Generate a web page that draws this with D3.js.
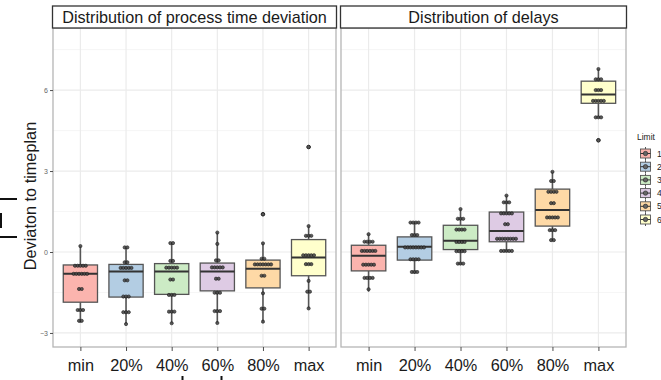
<!DOCTYPE html>
<html>
<head>
<meta charset="utf-8">
<script src="https://cdn.jsdelivr.net/npm/d3@7"></script>
<style>
  html, body { margin: 0; padding: 0; background: #fff; }
  svg { display: block; font-family: "Liberation Sans", Arial, sans-serif; }
</style>
</head>
<body>
<svg id="chart" width="661" height="380"></svg>
<script>
// ---------- DATA ----------
const categories = ["min", "20%", "40%", "60%", "80%", "max"];
const panelTitles = ["Distribution of process time deviation", "Distribution of delays"];
const yTicks = [-3, 0, 3, 6];
const legendTitle = "Limit";
const legendLabels = ["1", "2", "3", "4", "5", "6"];
const yAxisTitle = "Deviaton to timeplan";

// Panel 1: process time deviation (box statistics per category)
const processLow    = [-2.62, -2.67, -2.64, -2.63, -2.58, -2.09];
const processQ1     = [-1.86, -1.67, -1.57, -1.44, -1.33, -0.88];
const processMedian = [-0.81, -0.72, -0.72, -0.72, -0.62, -0.20];
const processQ3     = [-0.48, -0.46, -0.43, -0.41, -0.30,  0.46];
const processHigh   = [ 0.22,  0.17,  0.33,  0.72,  0.32,  0.96];
const processOutliers = [[4, 1.40], [5, 3.89]];
// dots: [category index, value, count]
const processDots = [
  [0, 0.22, 1], [0, -0.51, 5], [0, -0.81, 6], [0, -1.37, 2], [0, -2.15, 3], [0, -2.55, 2],
  [1, 0.17, 2], [1, -0.38, 2], [1, -0.59, 5], [1, -1.05, 2], [1, -1.65, 3], [1, -2.23, 3], [1, -2.67, 1],
  [2, 0.33, 2], [2, -0.33, 2], [2, -0.58, 5], [2, -1.02, 2], [2, -1.59, 3], [2, -2.21, 3], [2, -2.64, 1],
  [3, 0.72, 1], [3, 0.30, 1], [3, -0.31, 2], [3, -0.57, 5], [3, -0.99, 2], [3, -1.51, 3], [3, -2.19, 3], [3, -2.63, 1],
  [4, 1.40, 1], [4, 0.32, 1], [4, -0.25, 2], [4, -0.46, 7], [4, -0.88, 2], [4, -1.53, 1], [4, -2.10, 2], [4, -2.58, 1],
  [5, 3.89, 1], [5, 0.96, 1], [5, 0.60, 3], [5, -0.12, 5], [5, -0.45, 3], [5, -1.07, 1], [5, -1.47, 2], [5, -2.09, 1]
];

// Panel 2: delays
const delayLow    = [-1.47, -0.81, -0.47, 0.00, 0.40, 4.99];
const delayQ1     = [-0.70, -0.30,  0.09, 0.38, 0.96, 5.51];
const delayMedian = [-0.14,  0.19,  0.42, 0.78, 1.56, 5.84];
const delayQ3     = [ 0.25,  0.56,  0.99, 1.48, 2.33, 6.33];
const delayHigh   = [ 0.66,  1.09,  1.59, 2.09, 2.97, 6.78];
const delayOutliers = [[5, 4.14]];
const delayDots = [
  [0, 0.66, 1], [0, 0.38, 4], [0, 0.04, 6], [0, -0.47, 5], [0, -0.96, 4], [0, -1.38, 1],
  [1, 1.09, 4], [1, 0.63, 3], [1, 0.17, 8], [1, -0.27, 4], [1, -0.74, 3],
  [2, 1.59, 1], [2, 1.23, 3], [2, 0.83, 4], [2, 0.37, 4], [2, 0.03, 4], [2, -0.43, 3],
  [3, 2.09, 1], [3, 1.84, 3], [3, 1.43, 5], [3, 1.03, 2], [3, 0.49, 8], [3, 0.04, 5],
  [4, 2.97, 1], [4, 2.63, 2], [4, 2.23, 4], [4, 1.81, 2], [4, 1.28, 5], [4, 0.81, 3], [4, 0.44, 2],
  [5, 6.78, 1], [5, 6.40, 3], [5, 6.00, 3], [5, 5.60, 5], [5, 4.99, 3], [5, 4.14, 1]
];

const palette = ["#FBB4AE", "#B3CDE3", "#CCEBC5", "#DECBE4", "#FED9A6", "#FFFFCC"];

// ---------- LAYOUT ----------
const svg = d3.select("#chart");
const panelTop = 28, panelBottom = 347;
const panelsX = [[53, 336], [341, 626]];
const y = d3.scaleLinear().domain([-3.52, 8.30]).range([panelBottom, panelTop]);

const panelData = [
  {low: processLow, q1: processQ1, med: processMedian, q3: processQ3, high: processHigh, out: processOutliers, dots: processDots},
  {low: delayLow, q1: delayQ1, med: delayMedian, q3: delayQ3, high: delayHigh, out: delayOutliers, dots: delayDots}
];

const gridColor = "#ebebeb";
const boxStroke = "#555555";

panelData.forEach((pd, pi) => {
  const [x0, x1] = panelsX[pi];
  const x = d3.scalePoint().domain(categories).range([x0, x1]).padding(0.6);
  const step = x.step();
  const bw = step * 0.75;
  const g = svg.append("g");

  g.append("rect").attr("x", x0).attr("y", panelTop).attr("width", x1 - x0).attr("height", panelBottom - panelTop).attr("fill", "#fff");

  const minor = d3.range(-1.5, 8.3, 3);
  g.selectAll(".ming").data(minor).join("line")
    .attr("x1", x0).attr("x2", x1).attr("y1", d => y(d)).attr("y2", d => y(d))
    .attr("stroke", "#f4f4f4").attr("stroke-width", 0.8);
  g.selectAll(".majg").data(yTicks).join("line")
    .attr("x1", x0).attr("x2", x1).attr("y1", d => y(d)).attr("y2", d => y(d))
    .attr("stroke", gridColor).attr("stroke-width", 1.2);
  g.selectAll(".vg").data(categories).join("line")
    .attr("x1", d => x(d)).attr("x2", d => x(d)).attr("y1", panelTop).attr("y2", panelBottom)
    .attr("stroke", gridColor).attr("stroke-width", 1.2);

  categories.forEach((c, i) => {
    const cx = x(c);
    g.append("line").attr("x1", cx).attr("x2", cx).attr("y1", y(pd.high[i])).attr("y2", y(pd.q3[i]))
      .attr("stroke", boxStroke).attr("stroke-width", 1.6);
    g.append("line").attr("x1", cx).attr("x2", cx).attr("y1", y(pd.q1[i])).attr("y2", y(pd.low[i]))
      .attr("stroke", boxStroke).attr("stroke-width", 1.6);
    g.append("rect").attr("x", cx - bw / 2).attr("width", bw)
      .attr("y", y(pd.q3[i])).attr("height", y(pd.q1[i]) - y(pd.q3[i]))
      .attr("fill", palette[i]).attr("stroke", boxStroke).attr("stroke-width", 1.3);
    g.append("line").attr("x1", cx - bw / 2).attr("x2", cx + bw / 2)
      .attr("y1", y(pd.med[i])).attr("y2", y(pd.med[i]))
      .attr("stroke", "#333").attr("stroke-width", 2);
  });

  g.selectAll(".out").data(pd.out).join("circle")
    .attr("cx", d => x(categories[d[0]])).attr("cy", d => y(d[1])).attr("r", 1.8)
    .attr("fill", "none").attr("stroke", "#333").attr("stroke-width", 1);

  const spacing = 2.7;
  const flat = [];
  pd.dots.forEach(([ci, v, n]) => {
    for (let k = 0; k < n; k++) flat.push({ci, v, off: (k - (n - 1) / 2) * spacing});
  });
  g.selectAll(".dot").data(flat).join("circle")
    .attr("cx", d => x(categories[d.ci]) + d.off).attr("cy", d => y(d.v)).attr("r", 1.6)
    .attr("fill", "#4a4a4a").attr("stroke", "#1a1a1a").attr("stroke-width", 0.7).attr("opacity", 0.9);

  g.append("rect").attr("x", x0).attr("y", panelTop).attr("width", x1 - x0).attr("height", panelBottom - panelTop)
    .attr("fill", "none").attr("stroke", "#b5b5b5").attr("stroke-width", 1.3);

  g.append("rect").attr("x", x0 - 0.5).attr("y", 6).attr("width", x1 - x0 + 1).attr("height", panelTop - 6)
    .attr("fill", "#fff").attr("stroke", "#333").attr("stroke-width", 1.3);
  g.append("text").attr("x", (x0 + x1) / 2).attr("y", 23).attr("text-anchor", "middle")
    .attr("font-size", 16.2).attr("fill", "#1a1a1a").text(panelTitles[pi]);

  const xAxis = d3.axisBottom(x).tickSize(4).tickPadding(6);
  const ax = g.append("g").attr("transform", `translate(0,${panelBottom})`).call(xAxis);
  ax.select(".domain").remove();
  ax.selectAll(".tick line").attr("stroke", "#4d4d4d");
  ax.selectAll(".tick text").attr("font-size", 16.3).attr("fill", "#1a1a1a")
    .attr("font-family", "Liberation Sans, Arial, sans-serif").attr("dy", "0.71em").attr("y", 12);

  if (pi === 0) {
    const yAxis = d3.axisLeft(y).tickValues(yTicks).tickSize(3).tickPadding(2);
    const ay = g.append("g").attr("transform", `translate(${x0},0)`).call(yAxis);
    ay.select(".domain").remove();
    ay.selectAll(".tick line").attr("stroke", "#4d4d4d");
    ay.selectAll(".tick text").attr("font-size", 7).attr("fill", "#666")
      .attr("font-family", "Liberation Sans, Arial, sans-serif");
  }
});

svg.append("text").attr("transform", "translate(36,196) rotate(-90)")
  .attr("text-anchor", "middle").attr("font-size", 16.3).attr("fill", "#1a1a1a").text(yAxisTitle);

const lg = svg.append("g");
lg.append("text").attr("x", 637).attr("y", 140).attr("font-size", 8.5).attr("fill", "#222").text(legendTitle);
legendLabels.forEach((lab, i) => {
  const cy = 153.5 + i * 13.2;
  const cx = 645.5;
  lg.append("line").attr("x1", cx).attr("x2", cx).attr("y1", cy - 6.5).attr("y2", cy + 6.5)
    .attr("stroke", boxStroke).attr("stroke-width", 1);
  lg.append("rect").attr("x", cx - 5).attr("y", cy - 4.5).attr("width", 10).attr("height", 9)
    .attr("fill", palette[i]).attr("stroke", boxStroke).attr("stroke-width", 0.9);
  lg.append("line").attr("x1", cx - 5).attr("x2", cx + 5).attr("y1", cy).attr("y2", cy)
    .attr("stroke", "#333").attr("stroke-width", 1);
  lg.append("circle").attr("cx", cx).attr("cy", cy).attr("r", 2.2)
    .attr("fill", "#666").attr("stroke", "#222").attr("stroke-width", 0.6);
  lg.append("text").attr("x", 657).attr("y", cy + 3).attr("font-size", 8.5).attr("fill", "#222").text(lab);
});

const deco = svg.append("g").attr("stroke", "#111").attr("stroke-width", 2);
deco.append("line").attr("x1", 0).attr("x2", 17).attr("y1", 199).attr("y2", 199);
deco.append("line").attr("x1", 0).attr("x2", 17).attr("y1", 237).attr("y2", 237);
deco.append("line").attr("x1", 1).attr("x2", 1).attr("y1", 213).attr("y2", 228);
deco.append("line").attr("x1", 182.5).attr("x2", 182.5).attr("y1", 376).attr("y2", 380);
deco.append("line").attr("x1", 221.5).attr("x2", 221.5).attr("y1", 376).attr("y2", 380);
</script>
</body>
</html>
